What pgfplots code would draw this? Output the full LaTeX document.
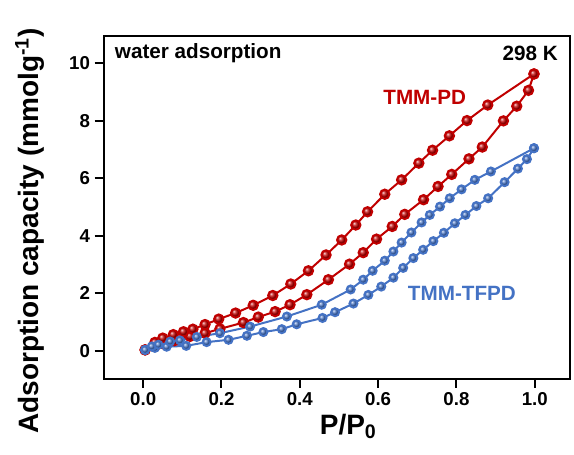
\documentclass[border=0pt]{standalone}
\usepackage{fontspec}
\setmainfont{Liberation Sans}
\usepackage{pgfplots}
\pgfplotsset{compat=1.18}
\definecolor{pdred}{RGB}{192,0,0}
\definecolor{tfblue}{RGB}{68,114,196}
\begin{document}
\begin{tikzpicture}
\begin{axis}[
    scale only axis,
    width=349.5pt,
    height=257pt,
    xmin=-0.1, xmax=1.09,
    ymin=-0.97, ymax=10.94,
    xtick={0,0.2,0.4,0.6,0.8,1.0},
    ytick={0,2,4,6,8,10},
    xticklabel style={/pgf/number format/.cd, fixed, fixed zerofill, precision=1},
    /pgf/number format/assume math mode=true,
    tick label style={font=\bfseries\fontsize{14}{14}\selectfont},
    tick align=outside,
    tick pos=left,
    major tick length=7pt,
    axis line style={line width=1.5pt},
    every tick/.style={line width=1.5pt, black},
    xlabel={P/P\textsubscript{0}},
    ylabel={Adsorption capacity (mmolg\textsuperscript{-1})},
    label style={font=\bfseries\fontsize{21}{21}\selectfont},
    xlabel style={at={(axis description cs:0.524,-0.14)}, anchor=center},
    ylabel style={at={(axis description cs:-0.159,0.431)}, anchor=center},
]
% TMM-PD adsorption
\addplot[pdred, line width=1.5pt, mark=ball, mark size=3.5pt, mark options={ball color=pdred}] coordinates {
    (0.005,0.03) (0.03,0.15) (0.05,0.25) (0.08,0.35) (0.12,0.50) (0.158,0.61)
    (0.196,0.76) (0.256,0.98) (0.294,1.17) (0.337,1.36) (0.375,1.60) (0.418,1.95)
    (0.473,2.47) (0.527,3.01) (0.562,3.41) (0.596,3.88) (0.636,4.32) (0.668,4.74)
    (0.716,5.25) (0.753,5.71) (0.788,6.13) (0.832,6.67) (0.866,7.08) (0.920,7.99)
    (0.954,8.50) (0.984,9.05) (0.998,9.62)
};
% TMM-PD desorption
\addplot[pdred, line width=1.5pt, mark=ball, mark size=3.5pt, mark options={ball color=pdred}] coordinates {
    (0.005,0.03) (0.03,0.29) (0.05,0.44) (0.077,0.56) (0.103,0.66) (0.127,0.75)
    (0.158,0.91) (0.193,1.10) (0.236,1.31) (0.281,1.58) (0.331,1.92) (0.377,2.32)
    (0.422,2.78) (0.467,3.33) (0.507,3.85) (0.543,4.37) (0.573,4.83) (0.617,5.44)
    (0.660,5.94) (0.704,6.52) (0.739,6.97) (0.782,7.47) (0.827,8.00) (0.880,8.54)
    (0.998,9.62)
};
% TMM-TFPD adsorption
\addplot[tfblue, line width=1.5pt, mark=ball, mark size=3pt, mark options={ball color=tfblue}] coordinates {
    (0.005,0.03) (0.03,0.10) (0.06,0.14) (0.11,0.17) (0.162,0.30) (0.218,0.38)
    (0.265,0.52) (0.307,0.65) (0.354,0.75) (0.392,0.92) (0.458,1.14) (0.490,1.34)
    (0.537,1.64) (0.575,1.94) (0.608,2.23) (0.639,2.54) (0.664,2.88) (0.690,3.22)
    (0.715,3.51) (0.741,3.81) (0.768,4.10) (0.796,4.43) (0.823,4.72) (0.851,5.03)
    (0.881,5.30) (0.923,5.86) (0.957,6.33) (0.980,6.66) (0.998,7.04)
};
% TMM-TFPD desorption
\addplot[tfblue, line width=1.5pt, mark=ball, mark size=3pt, mark options={ball color=tfblue}] coordinates {
    (0.005,0.03) (0.022,0.15) (0.039,0.21) (0.069,0.32) (0.094,0.36) (0.137,0.48)
    (0.196,0.61) (0.273,0.84) (0.367,1.19) (0.456,1.60) (0.530,2.13) (0.562,2.47)
    (0.586,2.78) (0.617,3.13) (0.639,3.45) (0.660,3.76) (0.685,4.11) (0.711,4.46)
    (0.732,4.72) (0.758,5.01) (0.783,5.30) (0.813,5.61) (0.847,5.94) (0.888,6.23)
    (0.998,7.04)
};
\node[anchor=west, font=\bfseries\fontsize{15.5}{15.5}\selectfont] at (axis cs:-0.084,10.35) {water adsorption};
\node[anchor=east, font=\bfseries\fontsize{15.5}{15.5}\selectfont] at (axis cs:1.071,10.35) {298 K};
\node[text=pdred, font=\bfseries\fontsize{15.5}{15.5}\selectfont] at (axis cs:0.719,8.82) {TMM-PD};
\node[text=tfblue, font=\bfseries\fontsize{15.5}{15.5}\selectfont] at (axis cs:0.814,2.01) {TMM-TFPD};
\end{axis}
\pgfresetboundingbox
\path ([shift={(-78pt,-57pt)}]current axis.south west) rectangle ([shift={(3pt,27pt)}]current axis.north east);
\end{tikzpicture}
\end{document}
